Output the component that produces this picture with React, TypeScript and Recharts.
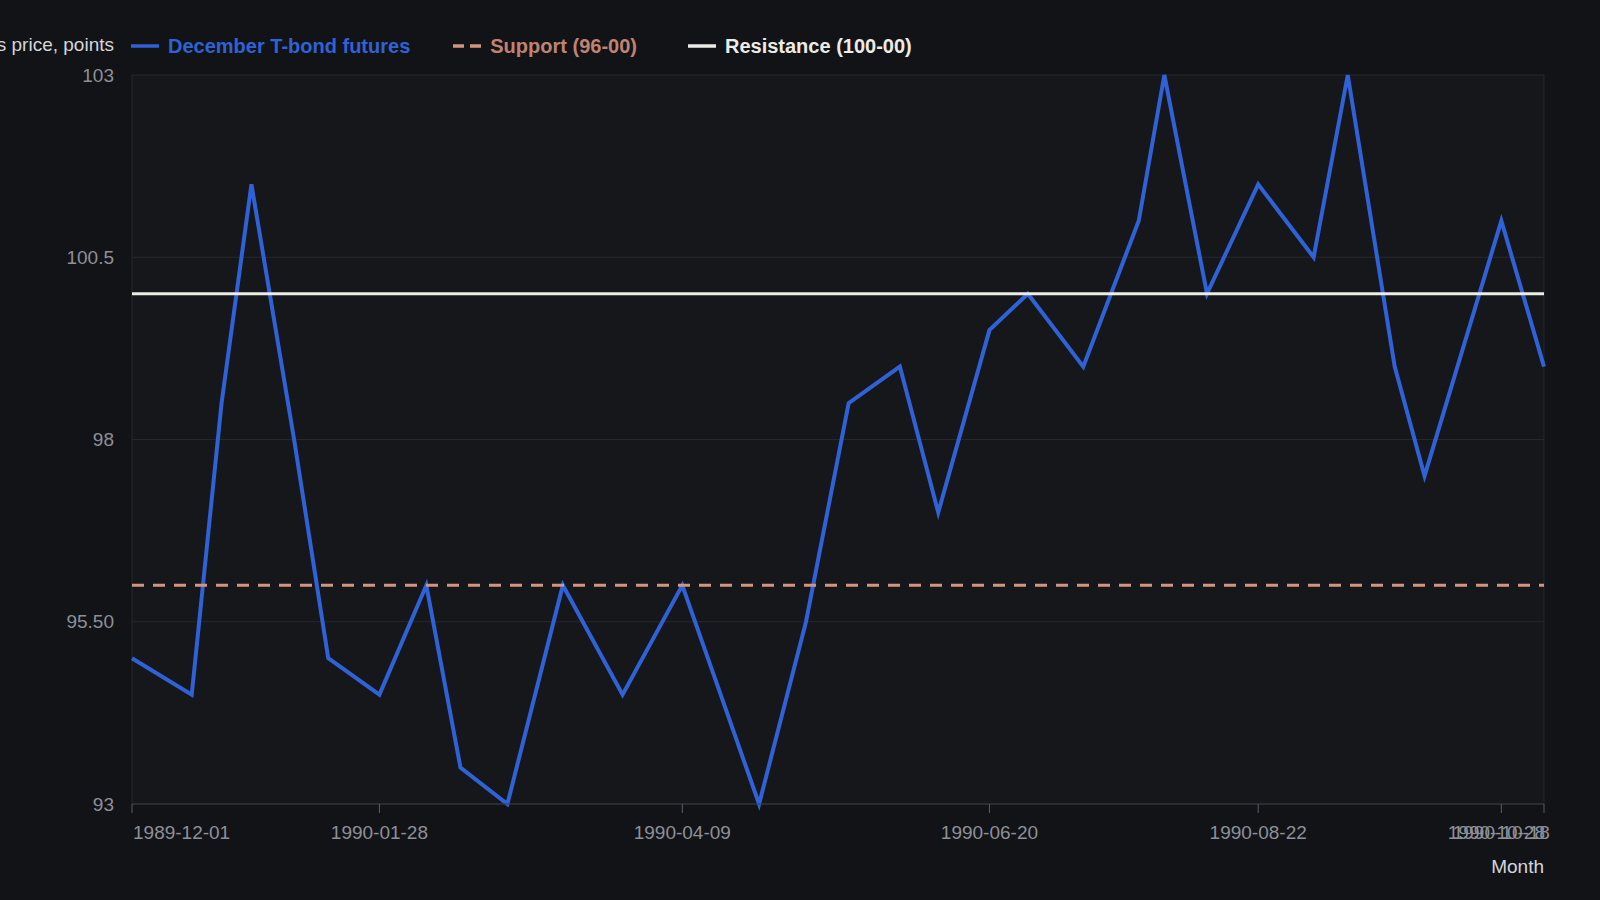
import { CartesianGrid, Label, Line, LineChart, ReferenceLine, XAxis, YAxis } from "recharts";

const dates = [
  "1989-12-01", "1989-12-15", "1989-12-22", "1989-12-29", "1990-01-08", "1990-01-16",
  "1990-01-28", "1990-02-08", "1990-02-16", "1990-02-27", "1990-03-12", "1990-03-26",
  "1990-04-09", "1990-04-27", "1990-05-08", "1990-05-18", "1990-05-30", "1990-06-08",
  "1990-06-20", "1990-06-29", "1990-07-12", "1990-07-25", "1990-07-31", "1990-08-10",
  "1990-08-22", "1990-09-04", "1990-09-12", "1990-09-23", "1990-09-30", "1990-10-18",
  "1990-10-28"
];

const prices = [
  95.0, 94.5, 98.5, 101.5, 98.0, 95.0,
  94.5, 96.0, 93.5, 93.0, 96.0, 94.5,
  96.0, 93.0, 95.5, 98.5, 99.0, 97.0,
  99.5, 100.0, 99.0, 101.0, 103.0, 100.0,
  101.5, 100.5, 103.0, 99.0, 97.5, 101.0,
  99.0
];

const xTickDates = ["1989-12-01", "1990-01-28", "1990-04-09", "1990-06-20", "1990-08-22", "1990-10-18", "1990-10-28"];
const yTicks = [93, 95.5, 98, 100.5, 103];
const yTickLabels = ["93", "95.50", "98", "100.5", "103"];

const supportLevel = 96;
const resistanceLevel = 100;

const seriesNames = ["December T-bond futures", "Support (96-00)", "Resistance (100-00)"];
const yAxisTitle = "December T-bond futures price, points";
const xAxisTitle = "Month";

const BLUE = "#2f62d6";
const SUPPORT = "#d39580";
const SUPPORT_TEXT = "#c0836f";
const RESIST = "#ecebe5";
const FONT = "'Liberation Sans', Arial, Helvetica, sans-serif";

const data = dates.map((d, i) => ({ t: Date.parse(d), price: prices[i] }));
const xTicks = xTickDates.map((d) => Date.parse(d));

const fmtDate = (t: number) => new Date(t).toISOString().slice(0, 10);

function XTick(props: any) {
  const { x, y, payload, index } = props;
  const last = index === xTicks.length - 1;
  const anchor = index === 0 ? "start" : last ? "end" : "middle";
  return (
    <text x={index === 0 || last ? x + 1 : x} y={y} dy={26} textAnchor={anchor} fill="#8d9097" fontSize={19} fontFamily={FONT}>
      {fmtDate(payload.value)}
    </text>
  );
}

function LegendIcon({ color, dashed }: { color: string; dashed?: boolean }) {
  return (
    <svg width={28} height={6} style={{ marginRight: 9 }}>
      <line x1={0} x2={28} y1={3} y2={3} stroke={color} strokeWidth={3.5} strokeDasharray={dashed ? "11 6" : undefined} />
    </svg>
  );
}

export default function App() {
  const legendColors = [BLUE, SUPPORT_TEXT, RESIST];
  const iconColors = [BLUE, SUPPORT, RESIST];
  const legendGaps = [43, 51, 0];
  return (
    <div style={{ position: "absolute", left: 0, top: 0, width: 1600, height: 900, background: "#121317", fontFamily: FONT }}>
      <LineChart width={1600} height={900} data={data} margin={{ top: 75, right: 56, bottom: 0, left: 0 }}>
        <CartesianGrid
          stroke="#26282d"
          fill="#16171b"
          verticalCoordinatesGenerator={({ offset }: any) => [offset.left, offset.left + offset.width]}
        />
        <XAxis
          dataKey="t"
          type="number"
          domain={[xTicks[0], xTicks[xTicks.length - 1]]}
          ticks={xTicks}
          interval={0}
          height={96}
          tickSize={9}
          tickMargin={0}
          stroke="#3a3c42"
          tickLine={{ stroke: "#5b5e64" }}
          tick={<XTick />}
        >
          <Label
            content={({ viewBox }: any) => (
              <text x={viewBox.x + viewBox.width} y={viewBox.y + 69} textAnchor="end" fill="#d4d6da" fontSize={19} fontFamily={FONT}>
                {xAxisTitle}
              </text>
            )}
          />
        </XAxis>
        <YAxis
          type="number"
          domain={[93, 103]}
          ticks={yTicks}
          interval={0}
          width={132}
          axisLine={false}
          tickLine={false}
          tickSize={0}
          tickMargin={18}
          tick={{ fill: "#8d9097", fontSize: 19, fontFamily: FONT }}
          tickFormatter={(v: number) => yTickLabels[yTicks.indexOf(v)] ?? String(v)}
        >
          <Label
            content={({ viewBox }: any) => (
              <text x={viewBox.x + viewBox.width - 18} y={51} textAnchor="end" fill="#d4d6da" fontSize={19} fontFamily={FONT}>
                {yAxisTitle}
              </text>
            )}
          />
        </YAxis>
        <Line
          type="linear"
          dataKey="price"
          stroke={BLUE}
          strokeWidth={4}
          dot={false}
          activeDot={false}
          isAnimationActive={false}
        />
        <ReferenceLine y={supportLevel} stroke={SUPPORT} strokeWidth={3} strokeDasharray="12 9" />
        <ReferenceLine y={resistanceLevel} stroke={RESIST} strokeWidth={3} />
      </LineChart>
      <div style={{ position: "absolute", left: 131, top: 34, height: 24, display: "flex", alignItems: "center" }}>
        {seriesNames.map((name, i) => (
          <div key={name} style={{ display: "flex", alignItems: "center", marginRight: legendGaps[i] }}>
            <LegendIcon color={iconColors[i]} dashed={i === 1} />
            <span style={{ color: legendColors[i], fontSize: 20, fontWeight: 700, whiteSpace: "nowrap" }}>{name}</span>
          </div>
        ))}
      </div>
    </div>
  );
}
